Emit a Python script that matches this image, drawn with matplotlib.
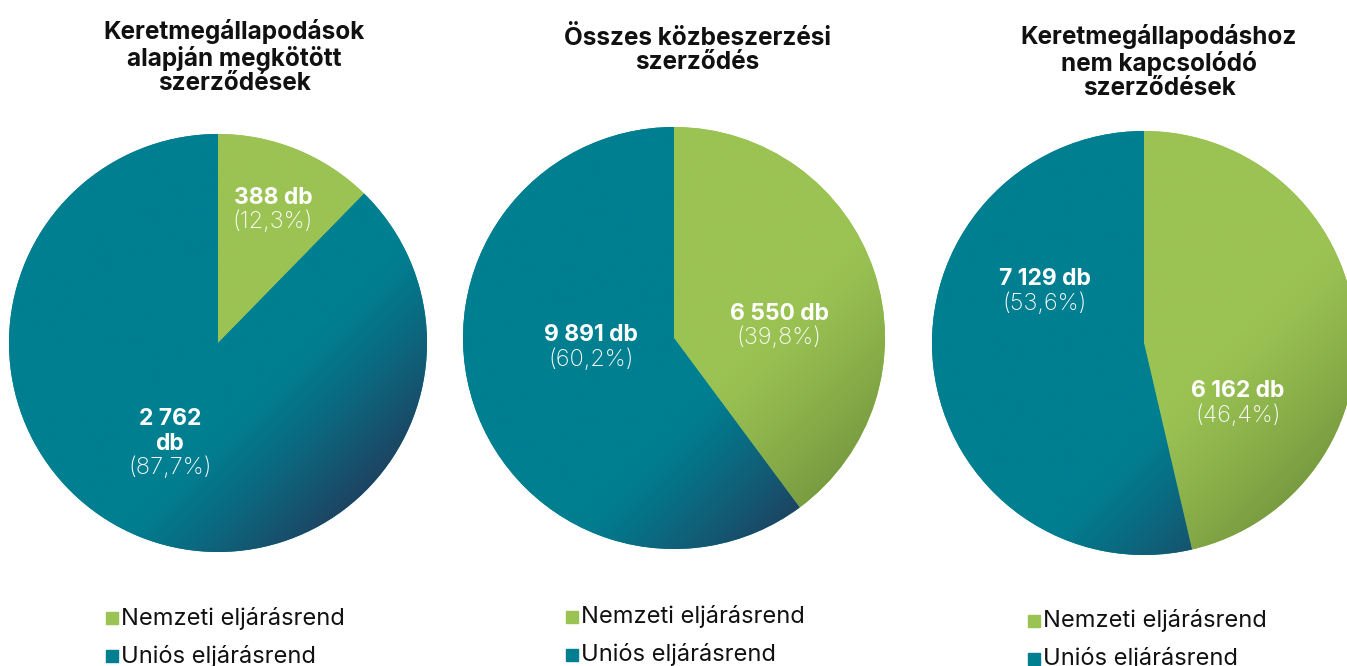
import matplotlib
matplotlib.use("Agg")
import matplotlib.pyplot as plt
import numpy as np
from matplotlib.colors import to_rgb
from matplotlib.patches import Rectangle

plt.rcParams["font.family"] = ["Inter", "DejaVu Sans"]

# data
titles = [
    "Keretmegállapodások\nalapján megkötött\nszerződések",
    "Összes közbeszerzési\nszerződés",
    "Keretmegállapodáshoz\nnem kapcsolódó\nszerződések",
]
categories = ["Nemzeti eljárásrend", "Uniós eljárásrend"]
nemzeti = [388, 6550, 6162]
unios = [2762, 9891, 7129]

# layout (figure pixels, y measured from the top)
W, H = 1347, 666
centers = [(218, 343), (674, 338), (1144, 343)]
radii = [209, 211, 212]
title_pos = [(234, 57), (697, 50), (1159, 62)]
# (nemzeti label, unios label) anchor points (between number and percent)
label_pos = [[(273, 210), (170, 456)], [(779, 326), (591, 347)], [(1238, 403), (1045, 291)]]
legend_pos = [(112, 618), (572, 617), (1034, 621)]

base_cols = ["#9bc353", "#007f91"]
dark_cols = ["#76993f", "#203f5e"]


def fmt_num(v):
    return f"{v:,}".replace(",", " ")


def fmt_pct(p):
    return f"({p:.1f}%)".replace(".", ",")


fig = plt.figure(figsize=(W / 100, H / 100), dpi=100)
ax = fig.add_axes([0, 0, 1, 1])

for i in range(3):
    vals = [nemzeti[i], unios[i]]
    cx, cy = centers[i]
    r = radii[i]
    wedges, _ = ax.pie(vals, center=(cx, H - cy), radius=r, startangle=90,
                       counterclock=False, colors=base_cols,
                       wedgeprops=dict(linewidth=0))
    # diagonal shading toward the bottom-right
    n = 200
    xs = np.linspace(-1, 1, n)
    gx, gy = np.meshgrid(xs, xs[::-1])
    s = (gx - gy) / np.sqrt(2)
    t = (np.clip((s - 0.3) / 0.75, 0, 1) ** 1.2)[..., None]
    for w, c0, c1 in zip(wedges, base_cols, dark_cols):
        img = (1 - t) * np.array(to_rgb(c0)) + t * np.array(to_rgb(c1))
        im = ax.imshow(img, extent=(cx - r, cx + r, H - cy - r, H - cy + r),
                       origin="upper", zorder=2, interpolation="bilinear")
        im.set_clip_path(w)

    total = sum(vals)
    for j, v in enumerate(vals):
        lx, ly = label_pos[i][j]
        num = fmt_num(v) + " db"
        if i == 0 and j == 1:
            num = fmt_num(v) + "\ndb"
        ax.text(lx, H - ly + 1, num, ha="center", va="bottom", color="white",
                fontsize=16.5, fontweight="bold", zorder=5, linespacing=1.15)
        ax.text(lx, H - ly - 1, fmt_pct(100 * v / total), ha="center", va="top",
                color="white", fontsize=17, fontweight="light", zorder=5)

    tx, ty = title_pos[i]
    ax.text(tx, H - ty, titles[i], ha="center", va="center", fontsize=17.5,
            fontweight="bold", color="#111111", linespacing=1.08)

    mx, my = legend_pos[i]
    for j, lab in enumerate(categories):
        yy = my + j * 38
        ax.add_patch(Rectangle((mx - 6, H - yy - 6), 12, 12, color=base_cols[j], zorder=5))
        ax.text(mx + 9, H - yy, lab, ha="left", va="center", fontsize=17, color="#111111")

ax.set_xlim(0, W)
ax.set_ylim(0, H)
ax.set_aspect("equal")
ax.axis("off")
fig.savefig("out.png", dpi=100)
